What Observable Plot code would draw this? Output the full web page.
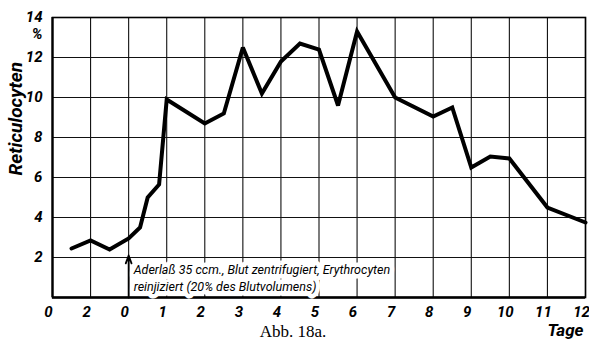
<!DOCTYPE html>
<html>
<head>
<meta charset="utf-8">
<script src="https://cdn.jsdelivr.net/npm/d3@7"></script>
<script src="https://cdn.jsdelivr.net/npm/@observablehq/plot@0.6"></script>
<style>
  html, body { margin: 0; padding: 0; background: #fff; }
</style>
</head>
<body>
<div id="chart"></div>
<script>
// Reticulocyte count (%) over the days around a blood-letting with reinjection
const days  = [-1.5, -1, -0.5, 0, 0.3, 0.5, 0.8, 1, 2, 2.5, 3, 3.5, 4, 4.5, 5, 5.5, 6, 7, 8, 8.5, 9, 9.5, 10, 11, 12];
const retic = [2.45, 2.85, 2.4, 2.95, 3.5, 5.0, 5.65, 9.9, 8.7, 9.2, 12.5, 10.2, 11.8, 12.7, 12.4, 9.6, 13.3, 10.0, 9.05, 9.5, 6.5, 7.05, 6.95, 4.5, 3.75];

// grid positions on the day axis and the labels printed under them
const xTicks = [-2, -1, 0, 1, 2, 3, 4, 5, 6, 7, 8, 9, 10, 11, 12];
const xTickLabels = ["0", "2", "0", "1", "2", "3", "4", "5", "6", "7", "8", "9", "10", "11", "12"];
const yGrid = [0, 2, 4, 6, 8, 10, 12, 14];
const yTicks = [2, 4, 6, 8, 10, 12, 14];

const note = ["Aderlaß 35 ccm., Blut zentrifugiert, Erythrocyten", "reinjiziert (20% des Blutvolumens)"];
const injectionDay = 0;
const arrowTop = 2.1;

const points = days.map((d, i) => ({day: d, value: retic[i]}));

const sans = "Roboto, 'DejaVu Sans', sans-serif";
const label = {fontFamily: sans, fontStyle: "italic", fontWeight: "bold"};

const chart = Plot.plot({
  width: 589,
  height: 340,
  marginLeft: 52,
  marginRight: 4,
  marginTop: 17,
  marginBottom: 43,
  style: {background: "#fff", color: "#000", fontFamily: sans},
  x: {domain: [-2, 12]},
  y: {domain: [0, 14]},
  marks: [
    Plot.gridX(xTicks, {stroke: "#111", strokeOpacity: 1, strokeWidth: 1.1}),
    Plot.gridY(yGrid, {stroke: "#111", strokeOpacity: 1, strokeWidth: 1.1}),
    Plot.frame({stroke: "#000", strokeWidth: 1.6}),
    Plot.ruleY([0], {stroke: "#000", strokeWidth: 2.6}),
    Plot.ruleX([-2], {stroke: "#000", strokeWidth: 2.2}),
    Plot.axisX(xTicks, {
      ...label, tickSize: 0, tickPadding: 9, dx: -4, fontSize: 15,
      tickFormat: (d) => xTickLabels[xTicks.indexOf(d)], label: null
    }),
    Plot.axisY(yTicks, {...label, tickSize: 0, tickPadding: 10, fontSize: 15, label: null}),
    Plot.axisY([14], {...label, tickSize: 0, tickPadding: 10, dy: 17, fontSize: 15, tickFormat: () => "%", label: null}),
    Plot.text([note.join("\n")], {
      x: injectionDay, y: 0, dx: 5, dy: -7,
      textAnchor: "start", lineAnchor: "bottom", lineHeight: 1.3,
      fontFamily: sans, fontStyle: "italic", fontSize: 12.5,
      stroke: "#fff", strokeWidth: 9, fill: "#000"
    }),
    Plot.arrow([{x1: injectionDay, y1: 0, x2: injectionDay, y2: arrowTop}], {
      x1: "x1", y1: "y1", x2: "x2", y2: "y2",
      stroke: "#000", strokeWidth: 1.8, headLength: 7, headAngle: 40
    }),
    Plot.line(points, {x: "day", y: "value", stroke: "#000", strokeWidth: 4, strokeLinejoin: "miter", strokeMiterlimit: 3}),
    Plot.text(["Reticulocyten"], {...label, frameAnchor: "left", rotate: -90, dx: -37, dy: 18, fontSize: 19}),
    Plot.text(["Tage"], {...label, frameAnchor: "bottom-right", textAnchor: "end", dx: -2, dy: 38, fontSize: 17}),
    Plot.text(["Abb. 18a."], {frameAnchor: "bottom", dx: -26, dy: 39, fontSize: 17, fontFamily: "'Liberation Serif', 'DejaVu Serif', serif"})
  ]
});

document.getElementById("chart").appendChild(chart);
</script>
</body>
</html>
